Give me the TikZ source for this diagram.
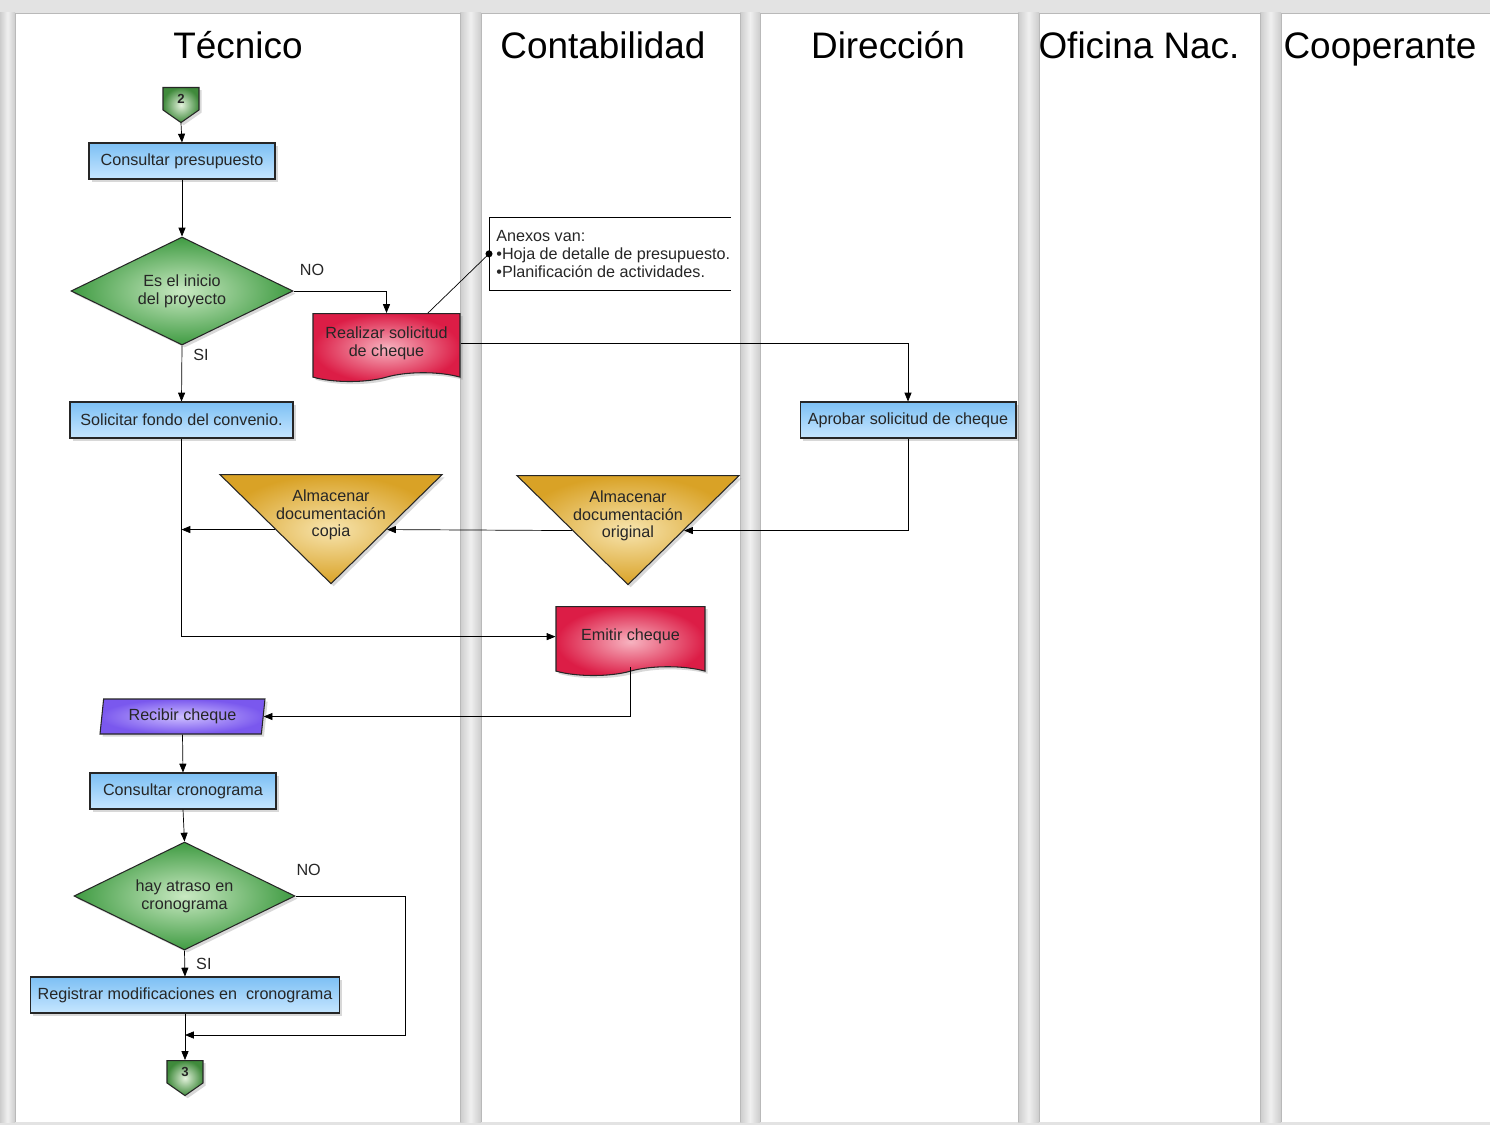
\documentclass[tikz,border=0pt]{standalone}
\usepackage{fontspec}
\setmainfont{Liberation Sans}
\usetikzlibrary{shapes.geometric,shapes.symbols,shadows,calc,arrows.meta}

\definecolor{procdark}{HTML}{7DC0F4}
\definecolor{proclight}{HTML}{C6E6FF}
\definecolor{decdark}{HTML}{3F9B42}
\definecolor{declight}{HTML}{C9E9C2}
\definecolor{docdark}{HTML}{DC1D46}
\definecolor{doclight}{HTML}{F7B3C0}
\definecolor{storedark}{HTML}{D9A226}
\definecolor{storelight}{HTML}{F7E4AE}
\definecolor{iodark}{HTML}{7A58EE}
\definecolor{iolight}{HTML}{CDBEFF}
\definecolor{conndark}{HTML}{3F8A3B}
\definecolor{connlight}{HTML}{E3F2DC}

\begin{document}
\begin{tikzpicture}[x=0.02cm,y=-0.02cm,>={Triangle[length=5pt,width=4pt]},
	every node/.style={font=\fontsize{9.2}{10.2}\selectfont, text=black!85},
	soft/.style={drop shadow={shadow xshift=1.5pt, shadow yshift=-1.5pt, opacity=0.3}},
	proc/.style={rectangle, draw=black!85, line width=0.6pt, top color=procdark, bottom color=proclight, minimum height=0.72cm, inner sep=1pt, soft},
	decis/.style={diamond, aspect=2, draw=black!85, line width=0.6pt, inner color=declight, outer color=decdark, minimum width=4.44cm, minimum height=2.16cm, inner sep=0pt, align=center, soft},
	doc/.style={tape, tape bend top=none, tape bend bottom=in and out, tape bend height=5pt, draw=black!85, line width=0.6pt, inner color=doclight, outer color=docdark, inner sep=0pt, align=center, anchor=north, soft},
	store/.style={isosceles triangle, shape border rotate=-90, isosceles triangle stretches, minimum width=4.44cm, minimum height=2.18cm, draw=black!85, line width=0.6pt, inner color=storelight, outer color=storedark, inner sep=0pt, anchor=apex, soft},
	storetext/.style={align=center, anchor=north, inner sep=0pt},
	io/.style={trapezium, trapezium left angle=79, trapezium right angle=101, trapezium stretches body, draw=black!85, line width=0.6pt, inner color=iolight, outer color=iodark, minimum height=0.7cm, inner sep=1pt, soft},
	conn/.style={signal, signal to=south, signal from=nothing, signal pointer angle=110, draw=black!85, line width=0.6pt, inner color=connlight, outer color=conndark, minimum width=0.72cm, minimum height=0.5cm, inner sep=0pt, anchor=north, font=\fontsize{7.5}{8}\selectfont\bfseries, soft},
	lanetitle/.style={font=\fontsize{21}{25}\selectfont, text=black, anchor=base}]
	\useasboundingbox (0,0) rectangle (1490,1125);
	\fill[gray!22] (0,0) rectangle (1490,1125);
	\foreach \l/\r in {0/15, 460/481, 740/760, 1018/1039, 1260/1281}
		\shade[left color=gray!40, right color=gray!40, middle color=gray!12] (\l,13) rectangle (\r,1122);
	\foreach \l/\r/\t/\c in {15/460/Técnico/238, 481/740/Contabilidad/603, 760/1018/Dirección/888, 1039/1260/Oficina Nac./1139, 1281/1500/Cooperante/1380}{
		\fill[white] (\l,13) rectangle (\r,1122);
		\draw[gray!55] (\l,1122) -- (\l,13) -- (\r,13) -- (\r,1122);
		\node[lanetitle] (title\l) at (\c,59) {\t};
	}

	\node[conn] (c2) at (181,87) {2};
	\node[proc, minimum width=3.72cm] (presup) at (182,161) {Consultar presupuesto};
	\node[decis] (inicio) at (182,291) {Es el inicio\\del proyecto};
	\node[doc, minimum width=2.94cm, minimum height=1.36cm] (realizar) at (386.5,313) {Realizar solicitud\\de cheque};
	\node[anchor=north west, minimum height=1.46cm, inner xsep=0.14cm, align=left] (anexos) at (489,217) {Anexos van:\\•Hoja de detalle de presupuesto.\\•Planificación de actividades.};
	\node[proc, minimum width=4.46cm] (solicitar) at (181.5,420) {Solicitar fondo del convenio.};
	\node[proc, minimum width=4.32cm] (aprobar) at (908,420) {Aprobar solicitud de cheque};
	\node[store] (original) at (628,586) {};
	\node[storetext] (originaltxt) at ([yshift=-8.5pt]original.lower side) {Almacenar\\documentación\\original};
	\node[store] (copia) at (331,585) {};
	\node[storetext] (copiatxt) at ([yshift=-8.5pt]copia.lower side) {Almacenar\\documentación\\copia};
	\node[doc, minimum width=2.98cm, minimum height=1.38cm] (emitir) at (630.5,606) {Emitir cheque};
	\node[io, minimum width=3.3cm] (recibir) at (182.5,716.5) {Recibir cheque};
	\node[proc, minimum width=3.72cm] (crono) at (183,791) {Consultar cronograma};
	\node[decis, minimum width=4.42cm] (atraso) at (184.5,896) {hay atraso en\\cronograma};
	\node[proc, minimum width=6.18cm] (registrar) at (185,995) {Registrar modificaciones en\ \ cronograma};
	\node[conn] (c3) at (185,1060) {3};
	\coordinate (noturn) at (405,1035);

	\draw[->] (c2.south) -- (presup.north);
	\draw[->] (presup.south) -- (inicio.north);
	\draw[->] (inicio.east) -| node[pos=0.1, above=5pt] {NO} (realizar.north);
	\draw[->] (inicio.south) -- node[pos=0.17, right=3pt] {SI} (solicitar.north);
	\draw ($(realizar.north)!0.56!(realizar.north east)$) -- (anexos.west);
	\fill (anexos.west) circle (2pt);
	\draw ([xshift=-0.14cm]anexos.north east) -- (anexos.north west) -- (anexos.south west) -- ([xshift=-0.14cm]anexos.south east);
	\draw[->] (realizar.east) -| (aprobar.north);
	\draw[->] (aprobar.south) |- (original.left side);
	\draw[->] (original.right side) -- (copia.left side);
	\draw[->] (copia.right side) -- (copia.right side -| solicitar.south);
	\draw[->] (solicitar.south) |- (emitir.west);
	\draw[->] (emitir.south) |- (recibir.east);
	\draw[->] (recibir.south) -- (crono.north);
	\draw[->] (crono.south) -- (atraso.north);
	\draw[->] (atraso.south) -- node[right=3pt] {SI} (registrar.north);
	\draw[->] (atraso.east) -| node[pos=0.06, above=8pt] {NO} (noturn) -- (noturn -| registrar.south);
	\draw[->] (registrar.south) -- (c3.north);
\end{tikzpicture}
\end{document}
